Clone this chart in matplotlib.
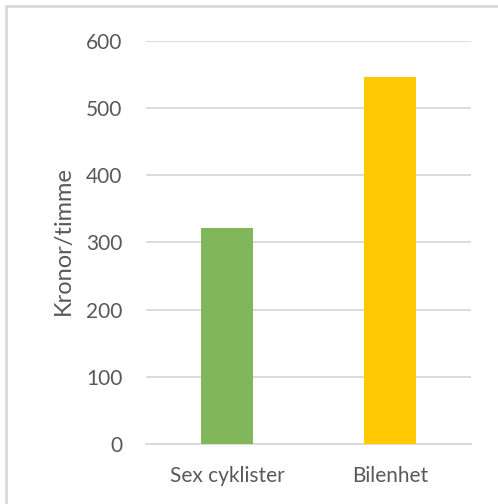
import matplotlib
matplotlib.use("Agg")
import matplotlib.pyplot as plt
from matplotlib.patches import Rectangle

categories = ["Sex cyklister", "Bilenhet"]
values = [321, 546]
colors = ["#82B65A", "#FFC800"]
yticks = [0, 100, 200, 300, 400, 500, 600]

plt.rcParams["font.family"] = ["Lato", "DejaVu Sans"]
text_color = "#595959"

fig = plt.figure(figsize=(4.98, 5.04), dpi=100)
W, H = 498, 504
ax = fig.add_axes([146 / W, 60 / H, (471 - 146) / W, (444 - 41) / H])

x = range(len(categories))
ax.bar(x, values, width=0.32, color=colors, zorder=3)
ax.set_xlim(-0.5, len(categories) - 0.5)
ax.set_ylim(0, 600)
ax.set_yticks(yticks)
ax.set_xticks(list(x))
ax.set_xticklabels(categories)
ax.yaxis.grid(True, color="#D9D9D9", linewidth=1.3, zorder=0)
ax.set_axisbelow(True)
for s in ["top", "right", "left"]:
    ax.spines[s].set_visible(False)
ax.spines["bottom"].set_color("#D9D9D9")
ax.spines["bottom"].set_linewidth(1.3)
ax.tick_params(axis="both", length=0, labelsize=15, colors=text_color)
ax.tick_params(axis="y", pad=17)
ax.tick_params(axis="x", pad=16)
ax.set_ylabel("Kronor/timme", fontsize=17, color=text_color)
ax.yaxis.set_label_coords((74 - 146) / 325, 0.505)

# chart-area frame
fig.patches.append(Rectangle((6 / W, -0.1), 2, (H - 6) / H + 0.1,
                             transform=fig.transFigure, fill=False,
                             edgecolor="#D9D9D9", linewidth=2))

fig.savefig("out.png", dpi=100)
